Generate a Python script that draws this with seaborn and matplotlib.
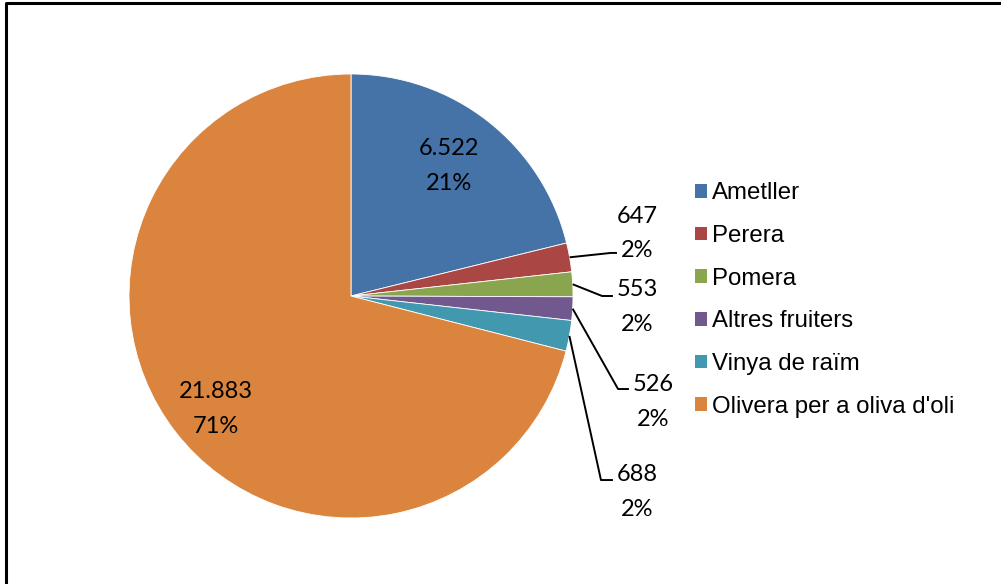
import matplotlib
matplotlib.use("Agg")
import matplotlib.pyplot as plt
import seaborn as sns
import numpy as np
from matplotlib.lines import Line2D
from matplotlib.patches import Patch

# ---- data ----
categories = ["Ametller", "Perera", "Pomera", "Altres fruiters", "Vinya de raïm", "Olivera per a oliva d'oli"]
values = [6522, 647, 553, 526, 688, 21883]
colors = ["#4572A7", "#AA4643", "#89A54E", "#71588F", "#4198AF", "#DB843D"]

sns.set_theme(style="white")
plt.rcParams['font.family'] = ['Liberation Sans', 'DejaVu Sans']

W, H = 1001, 584
fig = plt.figure(figsize=(W / 100, H / 100), dpi=100)
fig.patch.set_facecolor("white")

cx, cy, r = 351, 296, 222
ax = fig.add_axes([(cx - r) / W, (H - cy - r) / H, 2 * r / W, 2 * r / H])
ax.set_xlim(-1, 1)
ax.set_ylim(-1, 1)
ax.set_aspect("equal")
ax.axis("off")

wedges, _ = ax.pie(values, colors=colors, startangle=90, counterclock=False,
                   radius=1.0, center=(0, 0), frame=False,
                   wedgeprops=dict(edgecolor="white", linewidth=0.6))
ax.set_xlim(-1, 1)
ax.set_ylim(-1, 1)

total = sum(values)

def fmt(v):
    return f"{v:,}".replace(",", ".")

# label layout (data coords of the pie axes)
label_pos = [(0.441, 0.585), (1.288, 0.282), (1.288, -0.050), (1.36, -0.478), (1.288, -0.884), (-0.608, -0.508)]
# leader line bends/ends (None = inside label)
leaders = [None,
           [(1.171, 0.194), (1.198, 0.194)],
           [(1.131, 0.0), (1.180, 0.0)],
           [(1.203, -0.419), (1.252, -0.419)],
           [(1.126, -0.829), (1.180, -0.829)],
           None]

for w, v, pos, ld in zip(wedges, values, label_pos, leaders):
    pct = round(v / total * 100)
    ax.text(pos[0], pos[1], f"{fmt(v)}\n{pct}%", ha="center", va="center",
            fontsize=17, family=["Lato", "DejaVu Sans"], color="black",
            linespacing=1.8, clip_on=False)
    if ld is not None:
        mid = np.deg2rad((w.theta1 + w.theta2) / 2)
        xs = [np.cos(mid)] + [p[0] for p in ld]
        ys = [np.sin(mid)] + [p[1] for p in ld]
        ax.plot(xs, ys, color="black", lw=1.4, clip_on=False, solid_capstyle="butt")

handles = [Patch(facecolor=c, edgecolor="none") for c in colors]
leg = fig.legend(handles, categories, loc="center left",
                 bbox_to_anchor=(695 / W, 1 - 300 / H), frameon=False,
                 fontsize=17.3, handlelength=0.5, handleheight=0.5,
                 handletextpad=0.2, labelspacing=0.86, borderpad=0, borderaxespad=0,
                 labelcolor="black")

# outer frame (top and left edges visible)
fig.add_artist(Line2D([6 / W, 6 / W, 1.0], [0.0, 1 - 3 / H, 1 - 3 / H],
                      transform=fig.transFigure, color="black", lw=2.2))

fig.savefig("out.png", dpi=100, facecolor="white")
